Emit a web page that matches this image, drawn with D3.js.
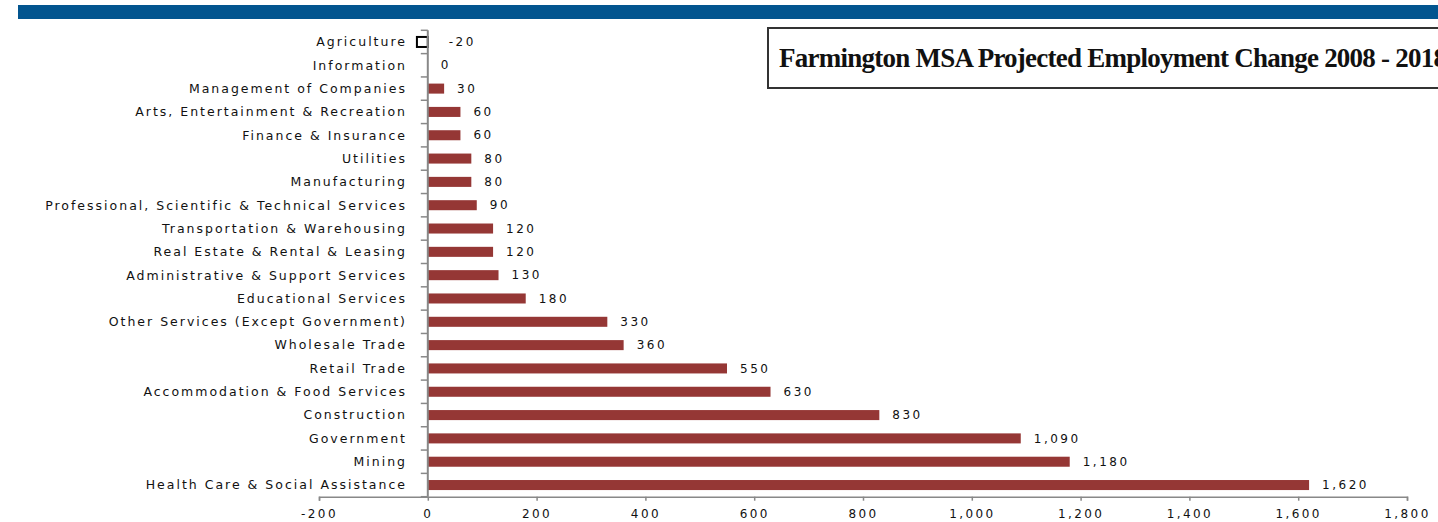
<!DOCTYPE html>
<html>
<head>
<meta charset="utf-8">
<script src="https://cdn.jsdelivr.net/npm/d3@7"></script>
<style>
  body { margin: 0; background: #fff; }
  svg { display: block; }
</style>
</head>
<body>
<div id="chart"></div>
<script>
// industries, top to bottom
const categories = [
  "Agriculture", "Information", "Management of Companies",
  "Arts, Entertainment  & Recreation", "Finance & Insurance", "Utilities",
  "Manufacturing", "Professional, Scientific & Technical Services",
  "Transportation  & Warehousing", "Real Estate  & Rental & Leasing",
  "Administrative & Support Services", "Educational Services",
  "Other Services (Except Government)", "Wholesale Trade", "Retail Trade",
  "Accommodation & Food Services", "Construction", "Government", "Mining",
  "Health Care & Social Assistance"
];
const values = [-20, 0, 30, 60, 60, 80, 80, 90, 120, 120, 130, 180, 330, 360, 550, 630, 830, 1090, 1180, 1620];
const xTicks = [-200, 0, 200, 400, 600, 800, 1000, 1200, 1400, 1600, 1800];
const title = "Farmington MSA Projected Employment Change 2008 - 2018";

const width = 1438, height = 522;
const labelFont = "'DejaVu Sans', Verdana, sans-serif";
const fmt = d3.formatLocale({ decimal: ".", thousands: ",", grouping: [3], currency: ["$", ""], minus: "-" }).format(",");

const svg = d3.select("#chart").append("svg")
  .attr("width", width)
  .attr("height", height);

// blue band at the top
svg.append("rect")
  .attr("x", 18).attr("y", 5)
  .attr("width", width - 18).attr("height", 14)
  .style("fill", "#02558f");

const x = d3.scaleLinear().domain([-200, 1800]).range([319, 1407]);
const y = d3.scaleBand().domain(categories).range([30.3, 496.7]).paddingInner(0.57).paddingOuter(0.285);

const data = categories.map((c, i) => ({ name: c, value: values[i] }));

// bars
svg.selectAll(".bar")
  .data(data)
  .enter()
  .append("rect")
  .attr("class", "bar")
  .attr("x", d => x(Math.min(0, d.value)))
  .attr("y", d => y(d.name))
  .attr("width", d => Math.abs(x(d.value) - x(0)))
  .attr("height", y.bandwidth())
  .style("fill", d => d.value < 0 ? "#fff" : "#953735")
  .style("stroke", d => d.value < 0 ? "#000" : "none")
  .style("stroke-width", 2);

// value labels
svg.selectAll(".val")
  .data(data)
  .enter()
  .append("text")
  .attr("class", "val")
  .attr("x", d => x(Math.abs(d.value)) + (d.value < 0 ? 10 : 13))
  .attr("y", d => y(d.name) + y.bandwidth() / 2)
  .attr("dy", "0.35em")
  .style("font-family", labelFont)
  .style("font-size", "12px")
  .style("letter-spacing", "2.5px")
  .style("fill", "#111")
  .text(d => fmt(d.value));

// category labels
svg.selectAll(".cat")
  .data(data)
  .enter()
  .append("text")
  .attr("class", "cat")
  .attr("x", 407)
  .attr("y", d => y(d.name) + y.bandwidth() / 2)
  .attr("dy", "0.35em")
  .attr("text-anchor", "end")
  .style("font-family", labelFont)
  .style("font-size", "12.5px")
  .style("letter-spacing", "2px")
  .style("fill", "#111")
  .text(d => d.name);

// y axis line and band ticks
const step = y.step();
const bandEdges = d3.range(categories.length + 1).map(i => y.range()[0] + i * step);
svg.selectAll(".ytick")
  .data(bandEdges)
  .enter()
  .append("line")
  .attr("x1", x(0) - 7).attr("x2", x(0))
  .attr("y1", d => d).attr("y2", d => d)
  .style("stroke", "#888").style("stroke-width", 1.5);

svg.append("line")
  .attr("x1", x(0)).attr("x2", x(0))
  .attr("y1", y.range()[0]).attr("y2", y.range()[1])
  .style("stroke", "#888").style("stroke-width", 2);

// x axis
const xAxis = svg.append("g")
  .attr("transform", "translate(0," + y.range()[1] + ")")
  .call(d3.axisBottom(x).tickValues(xTicks).tickFormat(fmt).tickSize(4).tickPadding(9));
xAxis.select(".domain").style("stroke", "#888").style("stroke-width", 1.5);
xAxis.selectAll(".tick line").style("stroke", "#888").style("stroke-width", 1.5);
xAxis.selectAll(".tick text")
  .style("font-family", labelFont)
  .style("font-size", "12px")
  .style("letter-spacing", "2.4px")
  .style("fill", "#111");

// title box
svg.append("rect")
  .attr("x", 768).attr("y", 28)
  .attr("width", 700).attr("height", 60)
  .style("fill", "#fff")
  .style("stroke", "#333")
  .style("stroke-width", 2);

svg.append("text")
  .attr("x", 779)
  .attr("y", 67)
  .attr("textLength", 668)
  .attr("lengthAdjust", "spacing")
  .style("font-family", "'Liberation Serif', 'Times New Roman', serif")
  .style("font-weight", "bold")
  .style("font-size", "27px")
  .style("fill", "#111")
  .text(title);
</script>
</body>
</html>
